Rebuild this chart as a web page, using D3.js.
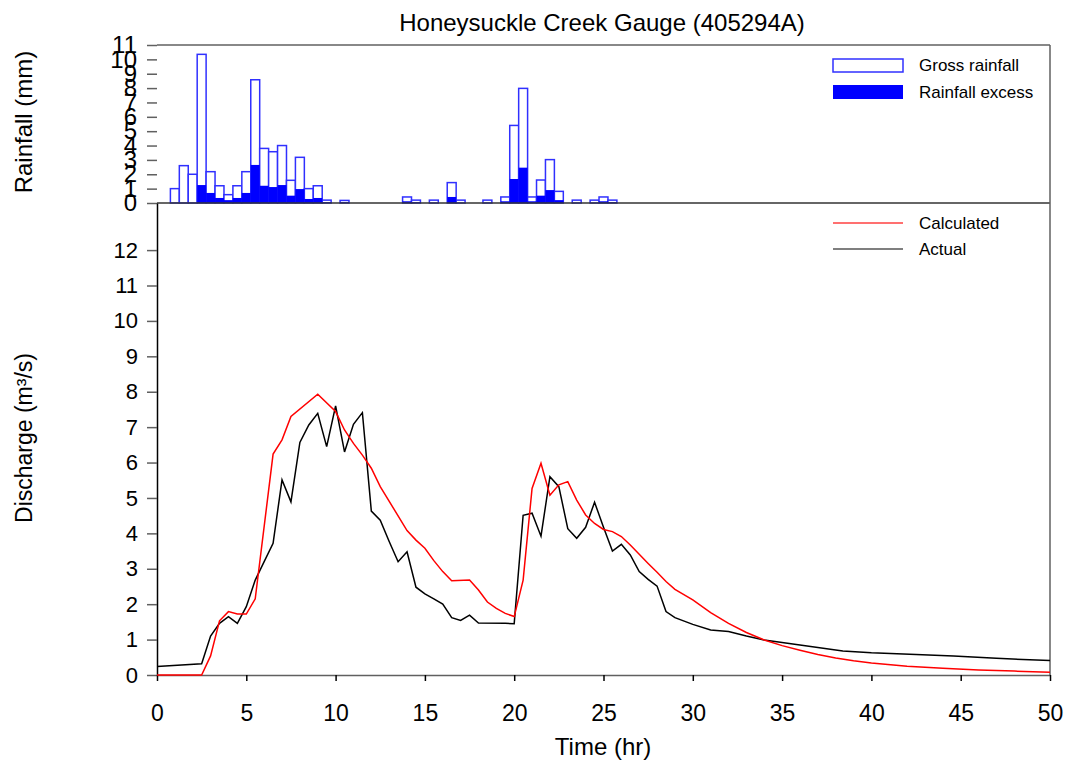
<!DOCTYPE html>
<html lang="en">
<head>
    <meta charset="UTF-8">
    <title>Honeysuckle Creek Gauge</title>
    <style>
        body { margin: 0; background: #fff; }
        svg { font-family: "Liberation Sans", Arial, sans-serif; }
    </style>
</head>
<body>
    <div id="graphic"></div>

    <script src="https://cdn.jsdelivr.net/npm/d3@7"></script>
    <script>
        // rainfall, 0.5 hr blocks (centre time, mm)
        var rainTime = [1, 1.5, 2, 2.5, 3, 3.5, 4, 4.5, 5, 5.5, 6, 6.5, 7, 7.5, 8, 8.5, 9, 9.5, 10.5,
                        14, 14.5, 15.5, 16.5, 17, 18.5, 19.5, 20, 20.5, 21, 21.5, 22, 22.5, 23.5, 24.5, 25, 25.5];
        var grossRain = [1.0, 2.6, 2.0, 10.35, 2.18, 1.2, 0.58, 1.2, 2.18, 8.58, 3.8, 3.57, 4.0, 1.58, 3.18, 1.0, 1.2, 0.2, 0.18,
                         0.42, 0.2, 0.2, 1.42, 0.2, 0.2, 0.42, 5.4, 7.98, 0.42, 1.6, 3.02, 0.81, 0.2, 0.2, 0.42, 0.2];
        var excessRain = [0, 0, 0, 1.25, 0.7, 0.35, 0.2, 0.35, 0.7, 2.65, 1.2, 1.11, 1.25, 0.51, 0.97, 0.28, 0.35, 0.05, 0.05,
                          0.12, 0.05, 0, 0.42, 0, 0, 0.12, 1.67, 2.46, 0.12, 0.51, 0.9, 0.2, 0, 0, 0.12, 0.05];

        // discharge (m3/s)
        var actualTime = [0, 2.5, 3, 3.5, 4, 4.5, 5, 5.5, 6, 6.5, 7, 7.5, 8, 8.5, 9, 9.5, 10, 10.5, 11, 11.5, 12, 12.5,
                          13, 13.5, 14, 14.5, 15, 15.5, 16, 16.5, 17, 17.5, 18, 19.5, 20, 20.5, 21, 21.5, 22, 22.5, 23,
                          23.5, 24, 24.5, 25, 25.5, 26, 26.5, 27, 27.5, 28, 28.5, 29, 30, 31, 32, 33, 34, 36, 38.4, 40,
                          42.5, 44.6, 47, 50];
        var actualFlow = [0.24, 0.32, 1.1, 1.46, 1.65, 1.46, 1.93, 2.68, 3.2, 3.72, 5.51, 4.89, 6.57, 7.06, 7.39, 6.45, 7.6, 6.3,
                          7.08, 7.41, 4.63, 4.37, 3.77, 3.2, 3.48, 2.48, 2.29, 2.15, 2.0, 1.62, 1.54, 1.69, 1.47, 1.46, 1.45,
                          4.51, 4.57, 3.92, 5.6, 5.32, 4.13, 3.86, 4.17, 4.88, 4.17, 3.5, 3.69, 3.39, 2.92, 2.7, 2.51, 1.79,
                          1.62, 1.43, 1.27, 1.23, 1.1, 0.99, 0.85, 0.68, 0.63, 0.58, 0.54, 0.47, 0.41];

        var calcTime = [0, 2.5, 3, 3.5, 4, 4.5, 5, 5.5, 6.5, 7, 7.5, 9, 10, 10.5, 11, 11.5, 12, 12.5, 14, 14.5, 15, 15.5, 16,
                        16.5, 17.5, 18, 18.5, 19, 19.5, 20, 20.5, 21, 21.5, 22, 22.5, 23, 23.5, 24, 24.5, 25, 25.5, 26,
                        26.5, 27, 27.5, 28, 28.5, 29, 30, 31, 32, 33, 34, 35, 36, 37, 38, 39, 40, 42, 44, 46, 48, 50];
        var calcFlow = [0, 0, 0.54, 1.53, 1.79, 1.72, 1.72, 2.15, 6.24, 6.64, 7.3, 7.93, 7.44, 6.92, 6.54, 6.21, 5.84, 5.32,
                        4.08, 3.81, 3.58, 3.23, 2.92, 2.66, 2.68, 2.4, 2.06, 1.88, 1.74, 1.65, 2.68, 5.27, 5.98, 5.08, 5.37,
                        5.46, 4.94, 4.52, 4.28, 4.11, 4.05, 3.91, 3.67, 3.41, 3.15, 2.9, 2.64, 2.42, 2.12, 1.76, 1.46, 1.2,
                        0.99, 0.83, 0.7, 0.58, 0.48, 0.4, 0.34, 0.25, 0.19, 0.14, 0.11, 0.08];

        var rainTicks = d3.range(0, 12);
        var flowTicks = d3.range(0, 13);
        var timeTicks = d3.range(0, 51, 5);

        var width = 1067;
        var height = 763;
        var left = 157, right = 1050;
        var rainTop = 45, split = 203, bottom = 675;
        var frameColor = '#606060';
        var blue = '#0000ff';

        var svg = d3.select('#graphic')
            .append('svg')
            .attr('width', width)
            .attr('height', height);

        var x = d3.scaleLinear().domain([0, 50]).range([left, right]);
        var yRain = d3.scaleLinear().domain([0, 11]).range([split, rainTop]);
        var yFlow = d3.scaleLinear().domain([0, 13.33]).range([bottom, split]);

        // rainfall bars
        var rain = rainTime.map(function(t, i) { return {t: t, gross: grossRain[i], excess: excessRain[i]}; });
        var halfW = (x(0.5) - x(0)) / 2;

        svg.append('g').selectAll('rect')
            .data(rain)
            .join('rect')
            .attr('x', function(d) { return x(d.t) - halfW; })
            .attr('width', halfW * 2)
            .attr('y', function(d) { return yRain(d.gross); })
            .attr('height', function(d) { return yRain(0) - yRain(d.gross); })
            .attr('fill', '#fff')
            .attr('stroke', '#3030ff')
            .attr('stroke-width', 1.5);

        svg.append('g').selectAll('rect')
            .data(rain.filter(function(d) { return d.excess > 0; }))
            .join('rect')
            .attr('x', function(d) { return x(d.t) - halfW; })
            .attr('width', halfW * 2)
            .attr('y', function(d) { return yRain(d.excess); })
            .attr('height', function(d) { return yRain(0) - yRain(d.excess); })
            .attr('fill', blue);

        // frame
        svg.append('line').attr('x1', left).attr('x2', right).attr('y1', rainTop).attr('y2', rainTop)
            .attr('stroke', frameColor).attr('stroke-width', 1.5);
        svg.append('line').attr('x1', left).attr('x2', right).attr('y1', split).attr('y2', split)
            .attr('stroke', '#333').attr('stroke-width', 1.5);
        svg.append('line').attr('x1', right).attr('x2', right).attr('y1', rainTop).attr('y2', bottom)
            .attr('stroke', frameColor).attr('stroke-width', 1.5);

        // rain axis
        var rainAxis = svg.append('g')
            .attr('transform', 'translate(' + left + ',0)')
            .call(d3.axisLeft(yRain).tickValues(rainTicks).tickSize(10).tickPadding(10).tickFormat(d3.format('d')));
        rainAxis.select('.domain').remove();
        rainAxis.selectAll('line').attr('stroke', frameColor).attr('stroke-width', 1.5);
        rainAxis.selectAll('text').attr('font-size', 24).attr('fill', '#000');

        // discharge axis
        var flowAxis = svg.append('g')
            .attr('transform', 'translate(' + left + ',0)')
            .call(d3.axisLeft(yFlow).tickValues(flowTicks).tickSize(10).tickPadding(9).tickSizeOuter(0));
        flowAxis.select('.domain').attr('stroke', '#000').attr('stroke-width', 1.5);
        flowAxis.selectAll('line').attr('stroke', frameColor).attr('stroke-width', 1.5);
        flowAxis.selectAll('text').attr('font-size', 22).attr('fill', '#000');

        // time axis
        var timeAxis = svg.append('g')
            .attr('transform', 'translate(0,' + bottom + ')')
            .call(d3.axisBottom(x).tickValues(timeTicks).tickSize(6).tickPadding(24).tickSizeOuter(0));
        timeAxis.select('.domain').attr('stroke', frameColor).attr('stroke-width', 1.5);
        timeAxis.selectAll('line').attr('stroke', '#000').attr('stroke-width', 1.5);
        timeAxis.selectAll('text').attr('font-size', 23).attr('fill', '#000');

        // discharge lines
        var line = d3.line()
            .x(function(d) { return x(d[0]); })
            .y(function(d) { return yFlow(d[1]); });

        svg.append('path')
            .datum(actualTime.map(function(t, i) { return [t, actualFlow[i]]; }))
            .attr('d', line)
            .attr('fill', 'none')
            .attr('stroke', '#000')
            .attr('stroke-width', 1.5);

        svg.append('path')
            .datum(calcTime.map(function(t, i) { return [t, calcFlow[i]]; }))
            .attr('d', line)
            .attr('fill', 'none')
            .attr('stroke', '#ff0000')
            .attr('stroke-width', 1.5);

        // legends
        var legend = svg.append('g').attr('font-size', 17);
        legend.append('rect').attr('x', 833).attr('y', 59).attr('width', 70).attr('height', 13)
            .attr('fill', '#fff').attr('stroke', '#3030ff').attr('stroke-width', 1.5);
        legend.append('text').attr('x', 919).attr('y', 71).text('Gross rainfall');
        legend.append('rect').attr('x', 833).attr('y', 85).attr('width', 70).attr('height', 14)
            .attr('fill', blue);
        legend.append('text').attr('x', 919).attr('y', 98).text('Rainfall excess');
        legend.append('line').attr('x1', 833).attr('x2', 903).attr('y1', 223).attr('y2', 223)
            .attr('stroke', '#ff4040').attr('stroke-width', 1.5);
        legend.append('text').attr('x', 919).attr('y', 229).text('Calculated');
        legend.append('line').attr('x1', 833).attr('x2', 903).attr('y1', 249).attr('y2', 249)
            .attr('stroke', '#000').attr('stroke-width', 1.2);
        legend.append('text').attr('x', 919).attr('y', 255).text('Actual');

        // titles
        svg.append('text').attr('x', 602).attr('y', 31).attr('text-anchor', 'middle')
            .attr('font-size', 24).text('Honeysuckle Creek Gauge (405294A)');
        svg.append('text').attr('x', 603).attr('y', 755).attr('text-anchor', 'middle')
            .attr('font-size', 24).text('Time (hr)');
        svg.append('text').attr('transform', 'translate(32,122) rotate(-90)').attr('text-anchor', 'middle')
            .attr('font-size', 24).text('Rainfall (mm)');
        svg.append('text').attr('transform', 'translate(32,438) rotate(-90)').attr('text-anchor', 'middle')
            .attr('font-size', 23).text('Discharge (m³/s)');
    </script>
</body>
</html>
